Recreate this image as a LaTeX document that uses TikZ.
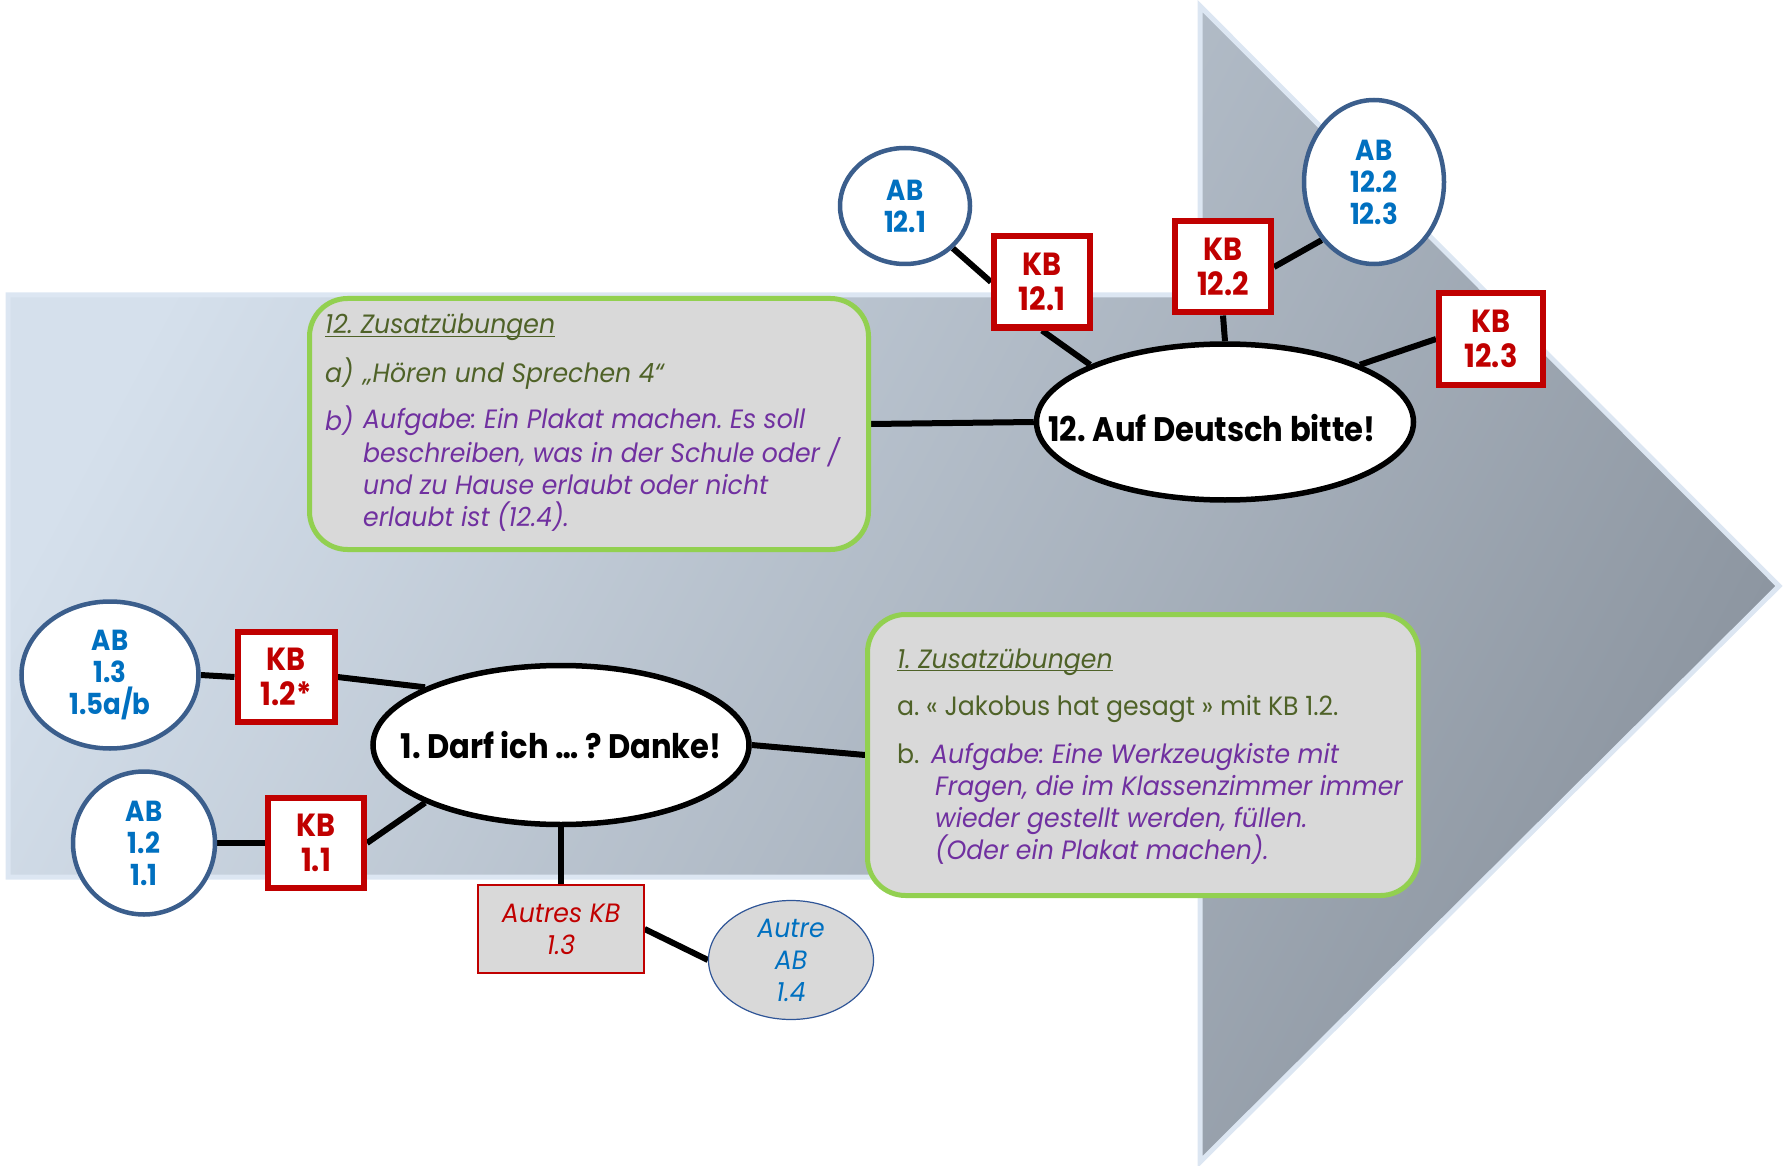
\documentclass[tikz,border=0pt]{standalone}
\usepackage{fontspec}
\setmainfont{Poppins}[FakeStretch=0.95]
\newfontfamily\lblfont{Poppins}[FakeStretch=0.9]
\usetikzlibrary{shapes.geometric}
\usepackage{calc}
\frenchspacing

\definecolor{abblue}{HTML}{0070C0}
\definecolor{abedge}{HTML}{3B5E8C}
\definecolor{kbred}{HTML}{C00000}
\definecolor{notegreen}{HTML}{92D050}
\definecolor{notegray}{HTML}{D9D9D9}
\definecolor{olive}{HTML}{4F6228}
\definecolor{violet}{HTML}{7030A0}
\definecolor{arrowedge}{HTML}{DCE6F2}
\definecolor{arrowlight}{HTML}{D5E0EC}
\definecolor{arrowdark}{HTML}{8D96A1}
\definecolor{thinblue}{HTML}{2F5597}

\pgfdeclarelayer{back}
\pgfdeclarelayer{links}
\pgfsetlayers{back,links,main}

% underline sitting close to the text
\newcommand{\tightul}[1]{\leavevmode\rlap{\rule[-3pt]{\widthof{#1}}{1.2pt}}#1}

\tikzset{
  link/.style={line width=6pt, black},
  abnode/.style={ellipse, draw=abedge, line width=4.5pt, fill=white, text=abblue,
    font=\lblfont\bfseries\fontsize{29}{32}\selectfont, align=center, inner sep=0pt},
  kbnode/.style={rectangle, draw=kbred, line width=6pt, fill=white, text=kbred,
    font=\lblfont\bfseries\fontsize{32}{35}\selectfont, align=center, inner sep=0pt},
  topic/.style={ellipse, draw=black, line width=5.5pt, fill=white,
    font=\lblfont\bfseries\fontsize{34}{38}\selectfont, inner xsep=-45pt, inner ysep=0pt},
  notebox/.style={rectangle, rounded corners=38pt, draw=notegreen, line width=5pt, fill=notegray},
  notetext/.style={anchor=base west, font=\fontsize{26.5}{32}\selectfont, inner sep=0pt, align=left},
  extrakb/.style={rectangle, draw=kbred, line width=1.2pt, fill=notegray, text=kbred,
    font=\itshape\fontsize{26.5}{32}\selectfont, align=center, inner sep=0pt},
  extraab/.style={ellipse, draw=thinblue, line width=1.2pt, fill=notegray, text=abblue,
    font=\itshape\fontsize{26.5}{32}\selectfont, align=center, inner sep=0pt},
}

\begin{document}
\begin{tikzpicture}[x=1pt, y=-1pt]
\useasboundingbox (0,0) rectangle (1783,1166);

% large background arrow
\begin{pgfonlayer}{back}
  \shadedraw[draw=arrowedge, line width=5pt, line join=miter,
    top color=arrowlight, bottom color=arrowdark, shading angle=62]
    (8,295) -- (1200,295) -- (1200,6) -- (1779,586) -- (1200,1162)
    -- (1200,877) -- (8,877) -- cycle;
\end{pgfonlayer}

% unit 12
\node[topic, minimum width=377pt, minimum height=156pt] (main12) at (1225,422) {\raisebox{-19pt}[0pt][0pt]{12. Auf Deutsch bitte!}\hspace*{26pt}};
\node[abnode, minimum width=130pt, minimum height=116pt] (ab121) at (905,206) {AB\\12.1};
\node[kbnode, minimum width=96pt, minimum height=91pt] (kb121) at (1042,282) {KB\\12.1};
\node[kbnode, minimum width=96pt, minimum height=91pt] (kb122) at (1223,267) {KB\\12.2};
\node[abnode, minimum width=140pt, minimum height=164pt] (ab122) at (1374,182) {AB\\12.2\\12.3};
\node[kbnode, minimum width=104pt, minimum height=91pt] (kb123) at (1491,339) {KB\\12.3};

\node[notebox, minimum width=559pt, minimum height=251pt] (box12) at (589,424) {};
\node[notetext, text=olive] (h12) at (325,334) {\itshape\tightul{12. Zusatzübungen}};
\node[notetext, text=olive] (a12) at (325,382) {\itshape a)\hspace{10pt}„Hören und Sprechen 4“};
\node[notetext, text=violet] (b12l) at (325,430) {\itshape b)};
% a multi-line node sits on the baseline of its last line
\node[notetext, text=violet] (b12) at (363,526) {\itshape Aufgabe: Ein Plakat machen. Es soll\\
  \itshape beschreiben, was in der Schule oder /\\
  \itshape und zu Hause erlaubt oder nicht\\
  \itshape erlaubt ist (12.4).};

% unit 1
\node[topic, minimum width=376pt, minimum height=159pt] (main1) at (561,745) {1. Darf ich … ? Danke!};
\node[abnode, minimum width=177pt, minimum height=147pt] (ab13) at (110,675) {AB\\1.3\\1.5a/b};
\node[kbnode, minimum width=97pt, minimum height=90pt] (kb12) at (286,677) {KB\\1.2*};
\node[abnode, minimum width=142pt, minimum height=143pt] (ab12) at (144,843) {AB\\1.2\\1.1};
\node[kbnode, minimum width=96pt, minimum height=90pt] (kb11) at (316,843) {KB\\1.1};
\node[extrakb, minimum width=166pt, minimum height=88pt] (autreskb) at (561,929) {Autres KB\\1.3};
\node[extraab, minimum width=165pt, minimum height=119pt] (autreab) at (791,960) {Autre\\AB\\1.4};

\node[notebox, minimum width=551pt, minimum height=281pt] (box1) at (1143,755) {};
\node[notetext, text=olive] (h1) at (897,668) {\itshape\tightul{1. Zusatzübungen}};
\node[notetext, text=olive] (a1) at (897,715) {a. « Jakobus hat gesagt » mit KB 1.2.};
\node[notetext, text=olive] (b1l) at (897,763) {b.};
\node[notetext, text=violet] (b1) at (931,859) {\itshape Aufgabe: Eine Werkzeugkiste mit\\
  \itshape \hspace*{4pt}Fragen, die im Klassenzimmer immer\\
  \itshape \hspace*{4pt}wieder gestellt werden, füllen.\\
  \itshape \hspace*{4pt}(Oder ein Plakat machen).};

% connectors
\begin{pgfonlayer}{links}
  \draw[link] (ab121) -- (kb121.west);
  \draw[link] (kb121.south) -- (main12.157);
  \draw[link] (kb122.south) -- (main12.north);
  \draw[link] (kb122.east) -- (ab122.228);
  \draw[link] (kb123.west) -- (main12.23);
  \draw[link] (box12.east) -- (main12.west);

  \draw[link] (ab13.east) -- (kb12.west);
  \draw[link] (kb12.east) -- (main1.157);
  \draw[link] (ab12.east) -- (kb11.west);
  \draw[link] (kb11.east) -- (main1.203);
  \draw[link] (main1.south) -- (autreskb.north);
  \draw[link] (autreskb.east) -- (autreab.west);
  \draw[link] (main1.east) -- (box1.west);
\end{pgfonlayer}
\end{tikzpicture}
\end{document}
